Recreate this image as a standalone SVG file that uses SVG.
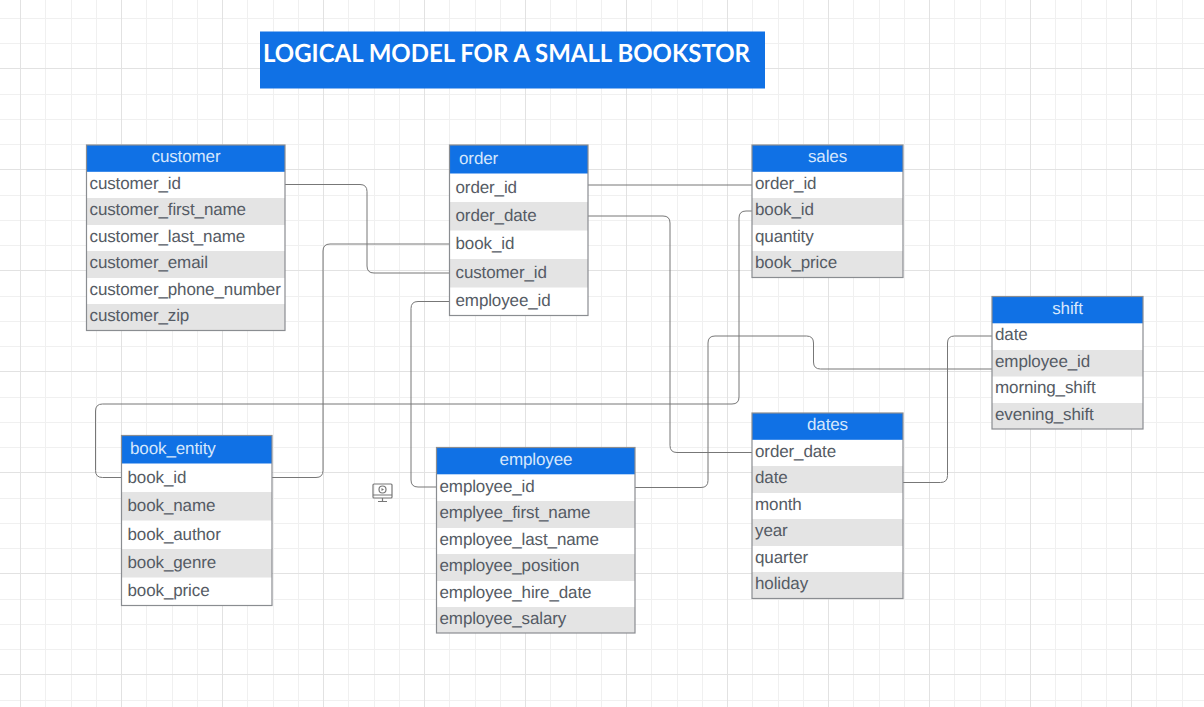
<svg xmlns="http://www.w3.org/2000/svg" width="1204" height="707" viewBox="0 0 1204 707">
<style>
.hd{fill:#1071e5}
.alt{fill:#e4e4e4}
.box{fill:none;stroke:#8a8d91;stroke-width:1.2}
.body{fill:#fff}
text{font-family:"Liberation Sans",Arial,sans-serif;text-rendering:geometricPrecision}
.t{font-size:17px;letter-spacing:-0.12px;fill:#555b64}
.h{font-size:17px;letter-spacing:-0.12px;fill:#d6e7fc}
.c{text-anchor:middle}
.conn{fill:none;stroke:#777;stroke-width:1}
</style>
<defs>
<pattern id="grid" x="20" y="-33" width="101" height="101" patternUnits="userSpaceOnUse">
<path d="M25.500 0V101M51.500 0V101M76.500 0V101M0 26.500H101M0 51.500H101M0 76.500H101" stroke="#f0f0f0" stroke-width="1" fill="none"/>
<path d="M0.500 0V101M0 0.500H101" stroke="#e2e2e2" stroke-width="1" fill="none"/>
</pattern>
</defs>
<rect width="1204" height="707" fill="#fff"/>
<rect width="1204" height="707" fill="url(#grid)"/>
<g id="title">
<rect x="260" y="31.500" width="505" height="57" class="hd"/>
<text x="263" y="62" font-size="25" font-weight="700" fill="#fff" style="font-family:Lato,'Liberation Sans',sans-serif" textLength="487" lengthAdjust="spacingAndGlyphs">LOGICAL MODEL FOR A SMALL BOOKSTOR</text>
</g>
<g id="connectors">
<path class="conn" d="M285 184.500H360Q367 184.500 367 191.500V266Q367 273 374 273H449"/>
<path class="conn" d="M449 244H330Q323 244 323 251V470.500Q323 477.500 316 477.500H272"/>
<path class="conn" d="M449 301.500H418Q411 301.500 411 308.500V480Q411 487 418 487H436"/>
<path class="conn" d="M588 185H752"/>
<path class="conn" d="M588 216H663Q670 216 670 223V445.500Q670 452.500 677 452.500H752"/>
<path class="conn" d="M752 211H746Q739 211 739 218V397Q739 404 732 404H102.500Q95.500 404 95.500 411V470.500Q95.500 477.500 102.500 477.500H121"/>
<path class="conn" d="M635 487.500H701Q708 487.500 708 480.500V343Q708 336 715 336H806.500Q813.500 336 813.500 343V362Q813.500 369 820.500 369H992"/>
<path class="conn" d="M903 482.500H940.500Q947.500 482.500 947.500 475.500V343Q947.500 336 954.500 336H992"/>
</g>
<g id="customer">
<rect class="body" x="86.500" y="145" width="198.500" height="185.500"/>
<rect class="hd" x="86.500" y="145" width="198.500" height="26.800"/>
<rect class="alt" x="86.500" y="198" width="198.500" height="27"/><rect class="alt" x="86.500" y="251" width="198.500" height="27"/><rect class="alt" x="86.500" y="304" width="198.500" height="26.500"/>
<rect class="box" x="86.500" y="145" width="198.500" height="185.500"/>
<text class="h c" x="186" y="162">customer</text>
<text class="t" x="89.500" y="189">customer_id</text><text class="t" x="89.500" y="215">customer_first_name</text><text class="t" x="89.500" y="242">customer_last_name</text><text class="t" x="89.500" y="268">customer_email</text><text class="t" x="89.500" y="295">customer_phone_number</text><text class="t" x="89.500" y="321">customer_zip</text>
</g>
<g id="order">
<rect class="body" x="449.500" y="145" width="138.500" height="170.500"/>
<rect class="hd" x="449.500" y="145" width="138.500" height="28.500"/>
<rect class="alt" x="449.500" y="202" width="138.500" height="28.500"/><rect class="alt" x="449.500" y="259" width="138.500" height="28.500"/>
<rect class="box" x="449.500" y="145" width="138.500" height="170.500"/>
<text class="h" x="459" y="164">order</text>
<text class="t" x="455.500" y="192.500">order_id</text><text class="t" x="455.500" y="221">order_date</text><text class="t" x="455.500" y="249">book_id</text><text class="t" x="455.500" y="278">customer_id</text><text class="t" x="455.500" y="306">employee_id</text>
</g>
<g id="sales">
<rect class="body" x="752" y="145" width="151" height="132.500"/>
<rect class="hd" x="752" y="145" width="151" height="26.800"/>
<rect class="alt" x="752" y="198" width="151" height="27"/><rect class="alt" x="752" y="251" width="151" height="26.500"/>
<rect class="box" x="752" y="145" width="151" height="132.500"/>
<text class="h c" x="827.500" y="162">sales</text>
<text class="t" x="755" y="189">order_id</text><text class="t" x="755" y="215">book_id</text><text class="t" x="755" y="242">quantity</text><text class="t" x="755" y="268">book_price</text>
</g>
<g id="shift">
<rect class="body" x="992" y="296.500" width="151" height="132.500"/>
<rect class="hd" x="992" y="296.500" width="151" height="26.800"/>
<rect class="alt" x="992" y="350" width="151" height="26.500"/><rect class="alt" x="992" y="403" width="151" height="26"/>
<rect class="box" x="992" y="296.500" width="151" height="132.500"/>
<text class="h c" x="1067.500" y="313.500">shift</text>
<text class="t" x="995" y="340">date</text><text class="t" x="995" y="367">employee_id</text><text class="t" x="995" y="393">morning_shift</text><text class="t" x="995" y="420">evening_shift</text>
</g>
<g id="dates">
<rect class="body" x="752" y="413" width="151" height="185.500"/>
<rect class="hd" x="752" y="413" width="151" height="26.800"/>
<rect class="alt" x="752" y="466" width="151" height="27"/><rect class="alt" x="752" y="519" width="151" height="27"/><rect class="alt" x="752" y="572" width="151" height="26.500"/>
<rect class="box" x="752" y="413" width="151" height="185.500"/>
<text class="h c" x="827.500" y="430">dates</text>
<text class="t" x="755" y="457">order_date</text><text class="t" x="755" y="483">date</text><text class="t" x="755" y="510">month</text><text class="t" x="755" y="536">year</text><text class="t" x="755" y="563">quarter</text><text class="t" x="755" y="589">holiday</text>
</g>
<g id="book_entity">
<rect class="body" x="121.500" y="435.500" width="150.500" height="170"/>
<rect class="hd" x="121.500" y="435.500" width="150.500" height="28"/>
<rect class="alt" x="121.500" y="492" width="150.500" height="28.500"/><rect class="alt" x="121.500" y="549" width="150.500" height="28.500"/>
<rect class="box" x="121.500" y="435.500" width="150.500" height="170"/>
<text class="h" x="130" y="454">book_entity</text>
<text class="t" x="127.500" y="483">book_id</text><text class="t" x="127.500" y="511">book_name</text><text class="t" x="127.500" y="540">book_author</text><text class="t" x="127.500" y="568">book_genre</text><text class="t" x="127.500" y="596">book_price</text>
</g>
<g id="employee">
<rect class="body" x="436.500" y="447.500" width="198.500" height="185.500"/>
<rect class="hd" x="436.500" y="447.500" width="198.500" height="26.800"/>
<rect class="alt" x="436.500" y="501" width="198.500" height="27"/><rect class="alt" x="436.500" y="554" width="198.500" height="27"/><rect class="alt" x="436.500" y="607" width="198.500" height="26"/>
<rect class="box" x="436.500" y="447.500" width="198.500" height="185.500"/>
<text class="h c" x="536" y="465">employee</text>
<text class="t" x="439.500" y="492">employee_id</text><text class="t" x="439.500" y="518">emplyee_first_name</text><text class="t" x="439.500" y="545">employee_last_name</text><text class="t" x="439.500" y="571">employee_position</text><text class="t" x="439.500" y="598">employee_hire_date</text><text class="t" x="439.500" y="624">employee_salary</text>
</g>
<g id="icon" fill="none" stroke="#777" stroke-width="1.200">
<rect x="373" y="484" width="19" height="14" rx="1"/>
<path d="M373 495H392M382.500 498V501M378 501.500H387"/>
<circle cx="382.500" cy="489.500" r="3.500"/>
<path d="M381.500 488L384 489.500L381.500 491Z" fill="#777" stroke="none"/>
</g>
</svg>
